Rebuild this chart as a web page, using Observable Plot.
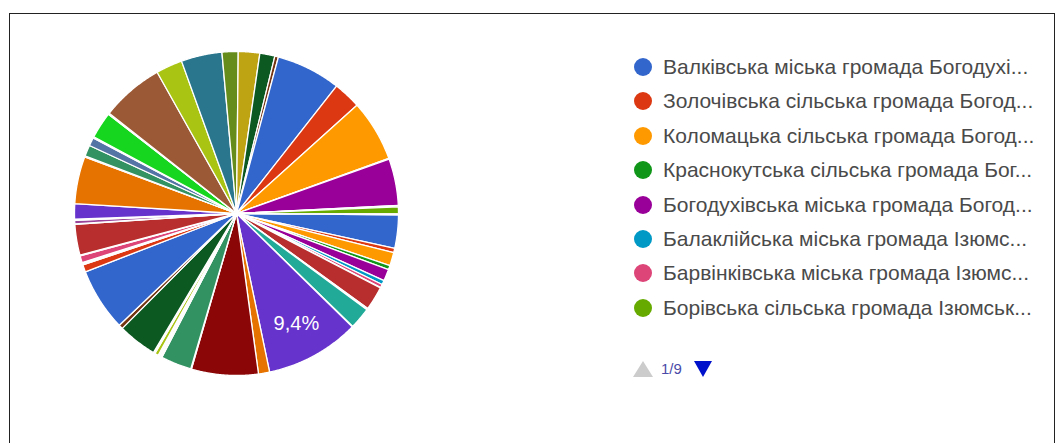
<!DOCTYPE html>
<html><head><meta charset="utf-8">
<script src="https://cdn.jsdelivr.net/npm/d3@7"></script>
<script src="https://cdn.jsdelivr.net/npm/@observablehq/plot@0.6"></script>
<style>
html,body{margin:0;padding:0;background:#fff;}
#wrap{position:relative;width:1064px;height:443px;overflow:hidden;font-family:Arial,"Liberation Sans",sans-serif;}
#chart{position:absolute;left:0;top:0;}
#frame{position:absolute;left:9px;top:13px;width:1046px;height:445px;border:1px solid #222;box-sizing:border-box;pointer-events:none;}
#legend{position:absolute;left:0;top:0;width:1064px;height:443px;}
.item{position:absolute;left:634px;height:26px;display:flex;align-items:center;white-space:nowrap;}
.sw{width:18px;height:18px;border-radius:50%;margin-right:11px;flex:none;}
.lab{font-size:21px;color:#4a4a4a;white-space:nowrap;}
#pager{position:absolute;left:633px;top:360px;display:flex;align-items:center;}
#pager .txt{font-size:15px;color:#4a4aa8;margin:0 12px 0 8px;}
</style></head><body>
<div id="wrap"><div id="chart"></div><div id="legend"></div><div id="frame"></div></div>
<script>
// Google Charts default palette (cycles by row index)
const palette = ["#3366cc","#dc3912","#ff9900","#109618","#990099","#0099c6","#dd4477","#66aa00",
  "#b82e2e","#316395","#994499","#22aa99","#aaaa11","#6633cc","#e67300","#8b0707","#651067",
  "#329262","#5574a6","#3b3eac","#b77322","#16d620","#b91383","#f4359e","#9c5935","#a9c413",
  "#2a778d","#668d1c","#bea413","#0c5922","#743411"];

// Legend names visible on page 1 of 9
const legendNames = [
  "Валківська міська громада Богодухівського району",
  "Золочівська сільська громада Богодухівського району",
  "Коломацька сільська громада Богодухівського району",
  "Краснокутська сільська громада Богодухівського району",
  "Богодухівська міська громада Богодухівського району",
  "Балаклійська міська громада Ізюмського району",
  "Барвінківська міська громада Ізюмського району",
  "Борівська сільська громада Ізюмського району"
];

// Slice shares (%) in row order
const values = [
  3.33, 0.42, 1.33, 0.42, 1.17, 0.42, 0.33, 0.06, 2.36, 0.08,
  0.07, 2.17, 0.06, 9.40, 1.11, 6.67, 0.07, 3.06, 0.05, 0.08,
  0.06, 0.05, 0.07, 0.06, 0.05, 0.36, 0.06, 0.05, 0.07, 3.89,
  0.42, 6.28, 0.72, 0.06, 0.05, 0.07, 0.06, 0.69, 0.08, 3.06,
  0.06, 0.33, 0.05, 0.07, 1.53, 4.72, 0.06, 0.05, 1.11, 0.83,
  0.07, 0.06, 2.64, 0.05, 0.08, 6.25, 2.64, 4.08, 1.61, 2.14,
  1.50, 0.36, 6.44, 2.75, 6.14, 0.08, 4.67, 0.07, 0.06, 0.69,
  0.05, 0.06
];
const pageLabel = "1/9";
const startAngleDeg = 90.5;

// layout
const cx = 236, cy = 213, R = 162;

const total = d3.sum(values);
const a0 = startAngleDeg * Math.PI / 180;
const arcs = d3.pie().sort(null).value(d => d).startAngle(a0).endAngle(a0 + 2 * Math.PI)(values);

const poly = [];
arcs.forEach((a, i) => {
  poly.push({id: i, x: 0, y: 0});
  const n = Math.max(2, Math.ceil((a.endAngle - a.startAngle) / 0.005));
  for (let k = 0; k <= n; k++) {
    const t = a.startAngle + (a.endAngle - a.startAngle) * k / n;
    poly.push({id: i, x: Math.sin(t), y: Math.cos(t)});
  }
  poly.push({id: i, x: 0, y: 0});
});

const fmt = v => (v * 100).toFixed(1).replace(".", ",") + "%";
const labels = arcs.filter(a => a.value / total >= 0.09).map(a => {
  const m = (a.startAngle + a.endAngle) / 2;
  return {x: 0.77 * Math.sin(m), y: 0.77 * Math.cos(m), text: fmt(a.value / total)};
});

const chart = Plot.plot({
  width: 1064, height: 443, margin: 0,
  style: {background: "white", overflow: "visible"},
  x: {domain: [-1, 1], range: [cx - R, cx + R], axis: null},
  y: {domain: [-1, 1], range: [cy + R, cy - R], axis: null},
  color: {type: "ordinal", domain: d3.range(values.length), range: palette},
  marks: [
    Plot.line(poly, {x: "x", y: "y", z: "id", fill: "id", stroke: "white", strokeWidth: 1.3, strokeLinejoin: "round", curve: "linear"}),
    Plot.text(labels, {x: "x", y: "y", text: "text", fill: "white", fontSize: 20, fontFamily: "Arial, 'Liberation Sans', sans-serif", textAnchor: "middle", dy: 1})
  ]
});
document.getElementById("chart").appendChild(chart);

// truncate legend labels to the available width, Google-style "..."
const maxW = 372;
const ctx = document.createElement("canvas").getContext("2d");
ctx.font = "21px Arial, 'Liberation Sans', sans-serif";
function fit(s) {
  if (ctx.measureText(s).width <= maxW) return s;
  let t = s;
  while (t.length > 1 && ctx.measureText(t + "...").width > maxW) t = t.slice(0, -1);
  return t.trimEnd() + "...";
}

const leg = document.getElementById("legend");
legendNames.forEach((name, i) => {
  const it = document.createElement("div");
  it.className = "item";
  it.style.top = (67 + i * 34.4 - 13) + "px";
  const sw = document.createElement("div");
  sw.className = "sw";
  sw.style.background = palette[i % palette.length];
  const lab = document.createElement("div");
  lab.className = "lab";
  lab.textContent = fit(name);
  lab.title = name;
  it.appendChild(sw); it.appendChild(lab);
  leg.appendChild(it);
});
const pager = document.createElement("div");
pager.id = "pager";
pager.innerHTML = '<svg width="20" height="16"><polygon points="10,0 20,16 0,16" fill="#cccccc"/></svg>' +
  '<span class="txt">' + pageLabel + '</span>' +
  '<svg width="18" height="16"><polygon points="0,0 18,0 9,16" fill="#0011cc"/></svg>';
leg.appendChild(pager);
</script>
</body></html>
